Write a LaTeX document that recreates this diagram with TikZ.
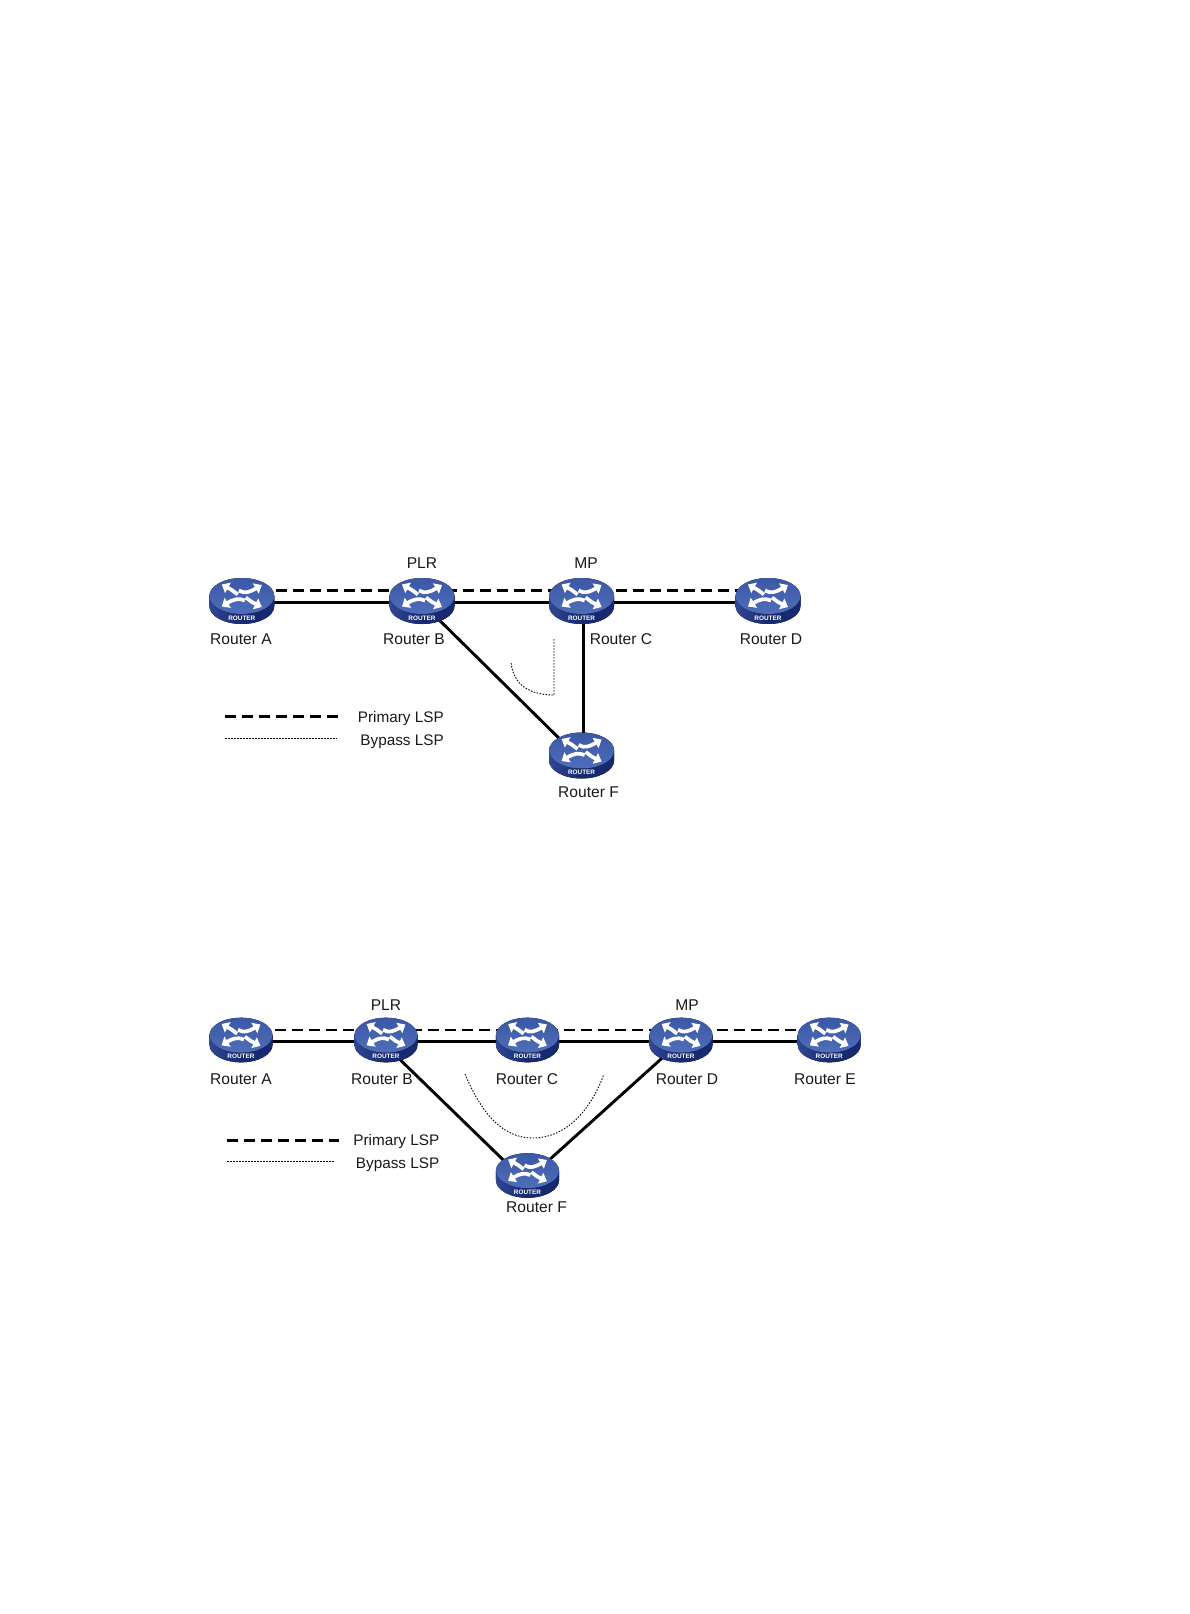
\documentclass[tikz,border=0pt]{standalone}
\usepackage{fontspec}
\setmainfont{Liberation Sans}
\usetikzlibrary{arrows.meta,shapes.geometric}
\definecolor{rtop}{HTML}{3A58A6}
\definecolor{rtopb}{HTML}{4F6DB8}
\definecolor{rbase}{HTML}{17296F}
\definecolor{rbasel}{HTML}{2F4796}
\tikzset{
  routernode/.style={shape=rectangle,minimum width=65pt,minimum height=46pt,inner sep=0pt},
  lab/.style={inner sep=0pt,font=\fontsize{15.6pt}{16pt}\selectfont,text height=11.2pt,text depth=0pt,text=black!90},
  legendlab/.style={inner sep=0pt,font=\fontsize{15.3pt}{16pt}\selectfont,text height=11.2pt,text depth=0pt,text=black!90,anchor=east},
  solidlink/.style={line width=2.9pt,black},
  primary/.style={line width=2.9pt,black,dash pattern=on 11pt off 6pt},
  bypass/.style={line width=.9pt,black,dash pattern=on 1.5pt off 1.5pt},
  arr/.style={line width=3.7pt,white,-{Triangle[width=11.5pt,length=7pt]}},
  routericon/.pic={
    \fill[left color=rbasel,right color=rbase,middle color=rbase]
      (-32.5,-5) -- (-32.5,5) arc[start angle=180,end angle=360,x radius=32.5pt,y radius=18pt]
      -- (32.5,-5) -- cycle;
    \fill[top color=rtop,bottom color=rtopb] (0,-5) ellipse [x radius=32.5pt,y radius=18pt];
    \draw[arr] (-4,-6.5) -- (-10,-11) -- (-20,-16.5);
    \draw[arr] (4,-3.5) -- (10,1) -- (20,6);
    \draw[arr] (-3,-10.5) .. controls (3,-7) and (8,-9) .. (20,-16);
    \draw[arr] (3,-0.5) .. controls (-3,-3) and (-8,-2) .. (-20,5.5);
    \node[inner sep=0pt,text=white,font=\fontsize{6.4pt}{7pt}\bfseries\selectfont] (-tag) at (0,17) {ROUTER};
  }
}
\begin{document}
\begin{tikzpicture}[x=1pt,y=-1pt]
\useasboundingbox (0,0) rectangle (1190,1614);
\fill[white] (0,0) rectangle (1190,1614);
% upper diagram
\node[routernode] (ua) at (241.8,601) {};
\node[routernode] (ub) at (422,601) {};
\node[routernode] (uc) at (581.6,601) {};
\node[routernode] (ud) at (768,601) {};
\node[routernode] (uf) at (581.6,755.5) {};
\draw[primary] ([yshift=10.5pt]ua.center) -- ([yshift=10.5pt]ub.center) -- ([yshift=10.5pt]uc.center) -- ([yshift=10.5pt]ud.center);
\draw[solidlink] ([yshift=-1.2pt]ua.center) -- ([yshift=-1.2pt]ub.center);
\draw[solidlink] ([yshift=-1.2pt]ub.center) -- ([yshift=-1.2pt]uc.center);
\draw[solidlink] ([yshift=-1.2pt]uc.center) -- ([yshift=-1.2pt]ud.center);
\draw[solidlink] ([yshift=-2pt]ub.center) -- ([yshift=-5pt]uf.center);
\draw[solidlink] ([xshift=1.6pt]uc.center) -- ([xshift=1.6pt]uf.center);
\pic at (ua) {routericon};
\pic at (ub) {routericon};
\pic at (uc) {routericon};
\pic at (ud) {routericon};
\pic at (uf) {routericon};
\node[lab] (uplr) at (422,562.5) {PLR};
\node[lab] (ump) at (586,562.5) {MP};
\node[lab] (ula) at (241,639) {Router A};
\node[lab] (ulb) at (414,639) {Router B};
\node[lab] (ulc) at (621,639) {Router C};
\node[lab] (uld) at (771,639) {Router D};
\node[lab] (ulf) at (588.5,792) {Router F};
\coordinate (ub1) at (554,639);
\coordinate (ub2) at (554,695);
\coordinate (ub3) at (511,662);
\draw[bypass] (ub1) -- (ub2) .. controls (530,695) and (513,685) .. (ub3);
\coordinate (ul1) at (225,716.5);
\coordinate (ul2) at (341,716.5);
\coordinate (ul3) at (225,738);
\coordinate (ul4) at (337,738);
\draw[primary] (ul1) -- (ul2);
\draw[bypass] (ul3) -- (ul4);
\node[legendlab] (ulp) at (444,716.5) {Primary LSP};
\node[legendlab] (ulq) at (444,740) {Bypass LSP};
% lower diagram
\node[routernode] (la) at (241,1040) {};
\node[routernode] (lb) at (386,1040) {};
\node[routernode] (lc) at (527.5,1040) {};
\node[routernode] (ld) at (681,1040) {};
\node[routernode] (le) at (829.2,1040) {};
\node[routernode] (lf) at (527.5,1175.5) {};
\draw[primary] ([yshift=10pt]la.center) -- ([yshift=10pt]lb.center) -- ([yshift=10pt]lc.center) -- ([yshift=10pt]ld.center) -- ([yshift=10pt]le.center);
\draw[solidlink] ([yshift=-1.2pt]la.center) -- ([yshift=-1.2pt]lb.center);
\draw[solidlink] ([yshift=-1.2pt]lb.center) -- ([yshift=-1.2pt]lc.center);
\draw[solidlink] ([yshift=-1.2pt]lc.center) -- ([yshift=-1.2pt]ld.center);
\draw[solidlink] ([yshift=-1.2pt]ld.center) -- ([yshift=-1.2pt]le.center);
\draw[solidlink] ([yshift=-6pt]lb.center) -- ([yshift=-8pt]lf.center);
\draw[solidlink] ([yshift=-4pt]lf.center) -- ([yshift=-1pt]ld.center);
\pic[scale=.97] at (la) {routericon};
\pic[scale=.97] at (lb) {routericon};
\pic[scale=.97] at (lc) {routericon};
\pic[scale=.97] at (ld) {routericon};
\pic[scale=.97] at (le) {routericon};
\pic[scale=.97] at (lf) {routericon};
\node[lab] (lplr) at (386,1005) {PLR};
\node[lab] (lmp) at (687,1005) {MP};
\node[lab] (lla) at (241,1079) {Router A};
\node[lab] (llb) at (382,1079) {Router B};
\node[lab] (llc) at (527,1079) {Router C};
\node[lab] (lld) at (687,1079) {Router D};
\node[lab] (lle) at (825,1079) {Router E};
\node[lab] (llf) at (536.5,1206.5) {Router F};
\coordinate (lb1) at (465,1074);
\coordinate (lb2) at (533,1138);
\coordinate (lb3) at (604,1074);
\draw[bypass] (lb1) .. controls (485,1122) and (508,1138) .. (lb2) .. controls (565,1138) and (590,1112) .. (lb3);
\coordinate (ll1) at (227,1140.5);
\coordinate (ll2) at (339,1140.5);
\coordinate (ll3) at (227,1161.5);
\coordinate (ll4) at (335,1161.5);
\draw[primary] (ll1) -- (ll2);
\draw[bypass] (ll3) -- (ll4);
\node[legendlab] (llp) at (439.5,1140) {Primary LSP};
\node[legendlab] (llq) at (439.5,1163) {Bypass LSP};
\end{tikzpicture}
\end{document}
